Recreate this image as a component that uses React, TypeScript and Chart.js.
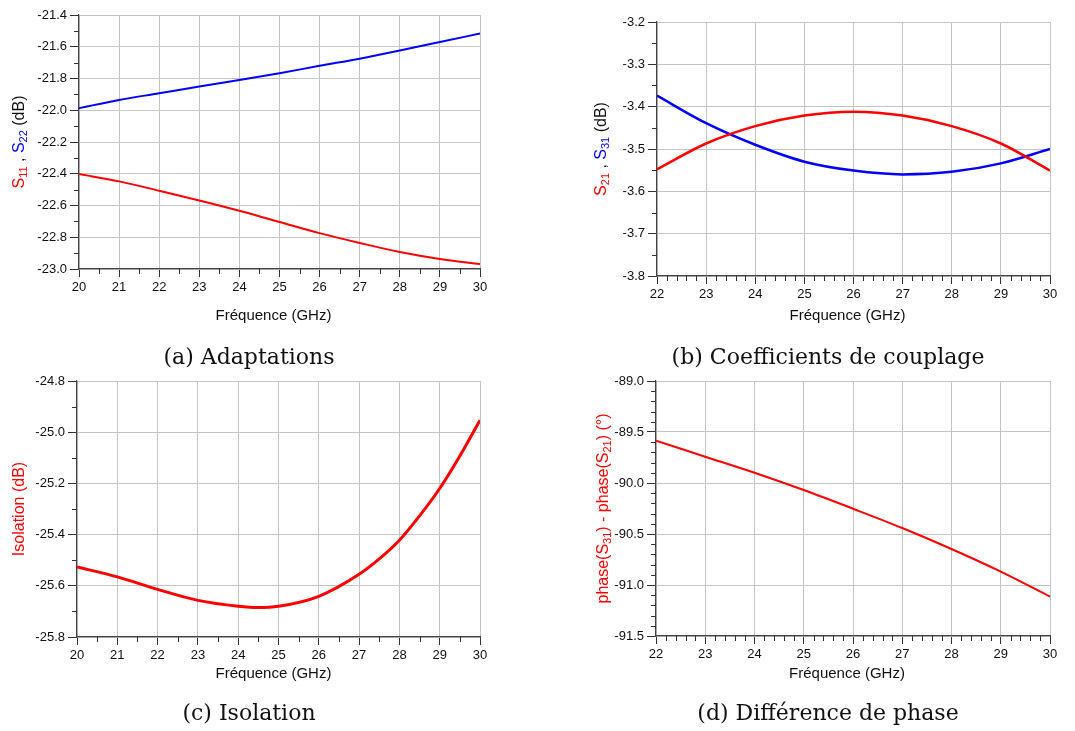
import React, { useEffect, useRef } from 'react';
import { Chart, registerables } from 'chart.js';

Chart.register(...registerables);

// ---------- data ----------
const freqA = [20, 21, 22, 23, 24, 25, 26, 27, 28, 29, 30];
const s11 = [-22.402, -22.448, -22.507, -22.568, -22.633, -22.704, -22.774, -22.836, -22.893, -22.937, -22.969];
const s22 = [-21.987, -21.935, -21.893, -21.85, -21.81, -21.767, -21.72, -21.675, -21.624, -21.57, -21.517];

const freqB = [22, 23, 24, 25, 26, 27, 28, 29, 30];
const s21 = [-3.548, -3.487, -3.446, -3.421, -3.412, -3.421, -3.446, -3.487, -3.551];
const s31 = [-3.374, -3.439, -3.49, -3.53, -3.551, -3.56, -3.554, -3.534, -3.5];

const freqC = [20, 21, 22, 23, 24, 24.5, 25, 26, 27, 27.5, 28, 28.5, 29, 29.5, 30];
const isolation = [-25.526, -25.565, -25.614, -25.657, -25.68, -25.685, -25.68, -25.641, -25.555, -25.495, -25.422, -25.327, -25.22, -25.093, -24.953];

const freqD = [22, 23, 24, 25, 26, 27, 28, 29, 30];
const phaseDiff = [-89.585, -89.742, -89.899, -90.069, -90.252, -90.441, -90.647, -90.869, -91.114];

const xTitleText = 'Fréquence (GHz)';
const captions = ['(a) Adaptations', '(b) Coefficients de couplage', '(c) Isolation', '(d) Différence de phase'];

// ---------- styling ----------
const RED = '#ff0000';
const BLUE = '#0000ff';
const DARK = '#111111';
const FONT = '"Liberation Sans", Arial, sans-serif';

type Seg = { t: string; c: string; sub?: boolean };
interface PanelCfg {
  left: number; top: number; width: number; height: number;
  padTop: number; padRight: number; yWidth: number; xHeight: number;
  xMin: number; xMax: number; xMinor: number;
  yMin: number; yMax: number; yStep: number; yMinor: number;
  xs: number[];
  series: { ys: number[]; color: string; width: number }[];
  yTitle: Seg[]; yTitleX: number;
  xTitleX: number; xTitleY: number;
}

const panels: PanelCfg[] = [
  {
    left: 0, top: 0, width: 537, height: 335,
    padTop: 15, padRight: 57, yWidth: 79, xHeight: 66,
    xMin: 20, xMax: 30, xMinor: 0.5,
    yMin: -23, yMax: -21.4, yStep: 0.2, yMinor: 0.1,
    xs: freqA,
    series: [{ ys: s11, color: RED, width: 2 }, { ys: s22, color: BLUE, width: 2 }],
    yTitle: [
      { t: 'S', c: RED }, { t: '11', c: RED, sub: true }, { t: ' , ', c: DARK },
      { t: 'S', c: BLUE }, { t: '22', c: BLUE, sub: true }, { t: ' (dB)', c: DARK },
    ],
    yTitleX: 18, xTitleX: 273.5, xTitleY: 316,
  },
  {
    left: 540, top: 0, width: 535, height: 335,
    padTop: 22, padRight: 25, yWidth: 117, xHeight: 59,
    xMin: 22, xMax: 30, xMinor: 0.2,
    yMin: -3.8, yMax: -3.2, yStep: 0.1, yMinor: 0.05,
    xs: freqB,
    series: [{ ys: s21, color: RED, width: 2.5 }, { ys: s31, color: BLUE, width: 2.5 }],
    yTitle: [
      { t: 'S', c: RED }, { t: '21', c: RED, sub: true }, { t: ' , ', c: DARK },
      { t: 'S', c: BLUE }, { t: '31', c: BLUE, sub: true }, { t: ' (dB)', c: DARK },
    ],
    yTitleX: 60, xTitleX: 307.5, xTitleY: 316,
  },
  {
    left: 0, top: 360, width: 537, height: 340,
    padTop: 21, padRight: 57, yWidth: 77, xHeight: 63,
    xMin: 20, xMax: 30, xMinor: 0.5,
    yMin: -25.8, yMax: -24.8, yStep: 0.2, yMinor: 0.1,
    xs: freqC,
    series: [{ ys: isolation, color: RED, width: 3 }],
    yTitle: [{ t: 'Isolation (dB)', c: RED }],
    yTitleX: 18, xTitleX: 273.5, xTitleY: 314,
  },
  {
    left: 540, top: 360, width: 535, height: 340,
    padTop: 21, padRight: 25, yWidth: 116, xHeight: 64,
    xMin: 22, xMax: 30, xMinor: 0.2,
    yMin: -91.5, yMax: -89, yStep: 0.5, yMinor: 0.1,
    xs: freqD,
    series: [{ ys: phaseDiff, color: RED, width: 2 }],
    yTitle: [
      { t: 'phase(S', c: RED }, { t: '31', c: RED, sub: true }, { t: ') - phase(S', c: RED },
      { t: '21', c: RED, sub: true }, { t: ') (°)', c: RED },
    ],
    yTitleX: 62, xTitleX: 307, xTitleY: 314,
  },
];

function makeDecor(cfg: PanelCfg) {
  return {
    id: 'decor',
    afterDraw(chart: any) {
      const ctx: CanvasRenderingContext2D = chart.ctx;
      const { left, top, bottom } = chart.chartArea;
      const sx = chart.scales.x;
      const sy = chart.scales.y;
      ctx.save();
      // minor ticks
      ctx.strokeStyle = '#333';
      ctx.lineWidth = 1;
      ctx.beginPath();
      const nX = Math.round((cfg.xMax - cfg.xMin) / cfg.xMinor);
      for (let i = 0; i <= nX; i++) {
        const v = cfg.xMin + i * cfg.xMinor;
        if (Math.abs(v - Math.round(v)) < 1e-6) continue;
        const px = Math.round(sx.getPixelForValue(v)) + 0.5;
        ctx.moveTo(px, bottom);
        ctx.lineTo(px, bottom + 5);
      }
      const nY = Math.round((cfg.yMax - cfg.yMin) / cfg.yMinor);
      for (let i = 0; i <= nY; i++) {
        const v = cfg.yMin + i * cfg.yMinor;
        const r = (v - cfg.yMin) / cfg.yStep;
        if (Math.abs(r - Math.round(r)) < 1e-6) continue;
        const py = Math.round(sy.getPixelForValue(v)) + 0.5;
        ctx.moveTo(left - 5, py);
        ctx.lineTo(left, py);
      }
      ctx.stroke();

      // x title
      ctx.font = `15px ${FONT}`;
      ctx.fillStyle = DARK;
      ctx.textAlign = 'center';
      ctx.textBaseline = 'middle';
      ctx.fillText(xTitleText, cfg.xTitleX, cfg.xTitleY);

      // y title (rotated, coloured, subscripts)
      const big = `16px ${FONT}`;
      const small = `11px ${FONT}`;
      ctx.textAlign = 'left';
      ctx.textBaseline = 'alphabetic';
      let total = 0;
      const widths = cfg.yTitle.map((s) => {
        ctx.font = s.sub ? small : big;
        const w = ctx.measureText(s.t).width;
        total += w;
        return w;
      });
      ctx.translate(cfg.yTitleX, (top + bottom) / 2);
      ctx.rotate(-Math.PI / 2);
      let px = -total / 2;
      const base = 5.7;
      cfg.yTitle.forEach((s, i) => {
        ctx.font = s.sub ? small : big;
        ctx.fillStyle = s.c;
        ctx.fillText(s.t, px, s.sub ? base + 3.5 : base);
        px += widths[i];
      });
      ctx.restore();
    },
  };
}

function Panel({ cfg }: { cfg: PanelCfg }) {
  const ref = useRef<HTMLCanvasElement>(null);
  useEffect(() => {
    const chart = new Chart(ref.current as HTMLCanvasElement, {
      type: 'line',
      data: {
        datasets: cfg.series.map((s) => ({
          data: cfg.xs.map((x, i) => ({ x, y: s.ys[i] })),
          borderColor: s.color,
          backgroundColor: s.color,
          borderWidth: s.width,
          pointRadius: 0,
          fill: false,
          cubicInterpolationMode: 'monotone' as const,
        })),
      },
      options: {
        responsive: false,
        animation: false,
        events: [],
        layout: { padding: { left: 0, top: cfg.padTop, right: cfg.padRight, bottom: 0 } },
        plugins: { legend: { display: false }, tooltip: { enabled: false } },
        scales: {
          x: {
            type: 'linear',
            min: cfg.xMin,
            max: cfg.xMax,
            ticks: {
              stepSize: 1,
              autoSkip: false,
              maxRotation: 0,
              color: DARK,
              padding: 3,
              font: { family: FONT, size: 13 },
              callback: (v: any) => String(Math.round(Number(v))),
            },
            grid: { color: '#c4c4c4', lineWidth: 1, tickColor: '#333', tickLength: 8 },
            border: { display: true, color: '#444', width: 1.2 },
            afterFit: (s: any) => { s.height = cfg.xHeight; },
          },
          y: {
            type: 'linear',
            min: cfg.yMin,
            max: cfg.yMax,
            ticks: {
              stepSize: cfg.yStep,
              autoSkip: false,
              color: DARK,
              padding: 3,
              font: { family: FONT, size: 13 },
              callback: (v: any) => Number(v).toFixed(1),
            },
            grid: { color: '#c4c4c4', lineWidth: 1, tickColor: '#333', tickLength: 9 },
            border: { display: true, color: '#444', width: 1.2 },
            afterFit: (s: any) => { s.width = cfg.yWidth; },
          },
        },
      } as any,
      plugins: [makeDecor(cfg)],
    });
    return () => chart.destroy();
  }, [cfg]);
  return (
    <canvas
      ref={ref}
      width={cfg.width}
      height={cfg.height}
      style={{ position: 'absolute', left: cfg.left, top: cfg.top, width: cfg.width, height: cfg.height }}
    />
  );
}

const captionPos = [
  { cx: 249, cy: 357 },
  { cx: 828, cy: 357 },
  { cx: 249, cy: 713 },
  { cx: 828, cy: 713 },
];

export default function App() {
  return (
    <div style={{ position: 'absolute', left: 0, top: 0, width: 1075, height: 731, background: '#fff', overflow: 'hidden' }}>
      {panels.map((p, i) => (
        <Panel key={i} cfg={p} />
      ))}
      {captions.map((c, i) => (
        <div
          key={'c' + i}
          style={{
            position: 'absolute',
            left: captionPos[i].cx - 250,
            top: captionPos[i].cy - 14,
            width: 500,
            height: 28,
            lineHeight: '28px',
            textAlign: 'center',
            fontFamily: '"DejaVu Serif", serif',
            fontSize: 22,
            color: '#111',
          }}
        >
          {c}
        </div>
      ))}
    </div>
  );
}
